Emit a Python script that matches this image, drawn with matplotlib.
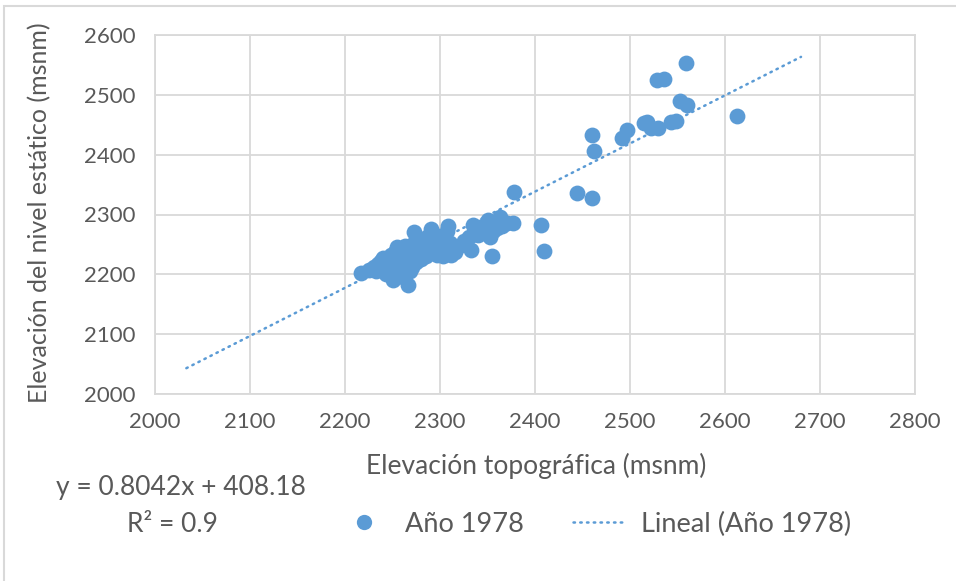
import numpy as np
import matplotlib
matplotlib.use('Agg')
from matplotlib import pyplot as plt
from matplotlib.patches import Rectangle
from matplotlib.lines import Line2D

plt.rcParams['font.family'] = ['Lato', 'DejaVu Sans']

# elevacion topografica (x) y elevacion del nivel estatico (y), año 1978
topo = [2217, 2225, 2230, 2233, 2235, 2238, 2240, 2240, 2243, 2245, 2247, 2248,
        2250, 2250, 2252, 2253, 2255, 2255, 2257, 2258, 2260, 2260, 2261, 2262,
        2263, 2265, 2266, 2266, 2268, 2268, 2270, 2271, 2272, 2273, 2274, 2275,
        2276, 2278, 2278, 2280, 2282, 2283, 2285, 2286, 2288, 2290, 2291, 2292,
        2294, 2295, 2297, 2298, 2300, 2302, 2303, 2305, 2307, 2308, 2310, 2312,
        2314, 2316, 2320, 2325, 2330, 2333, 2335, 2337, 2340, 2345, 2348, 2350,
        2353, 2355, 2356, 2358, 2360, 2363, 2365, 2370, 2377,
        2378, 2406, 2409, 2444, 2460, 2460, 2462, 2492, 2497,
        2515, 2518, 2522, 2529, 2543, 2548, 2528, 2536, 2553, 2560, 2559, 2613]
nivel = [2203, 2207, 2212, 2205, 2218, 2222, 2228, 2210, 2200, 2215, 2225, 2232,
         2190, 2208, 2220, 2238, 2245, 2200, 2215, 2230, 2225, 2240, 2195, 2210,
         2248, 2235, 2182, 2218, 2205, 2245, 2228, 2212, 2250, 2270, 2238, 2220,
         2258, 2232, 2245, 2225, 2255, 2240, 2230, 2262, 2248, 2275, 2238, 2255,
         2245, 2265, 2232, 2250, 2240, 2258, 2230, 2245, 2272, 2280, 2252, 2232,
         2246, 2238, 2248, 2255, 2262, 2240, 2283, 2270, 2265, 2280, 2275, 2290,
         2262, 2230, 2272, 2285, 2278, 2295, 2280, 2285, 2285,
         2337, 2283, 2239, 2336, 2327, 2433, 2406, 2428, 2441,
         2453, 2455, 2444, 2444, 2454, 2457, 2524, 2526, 2490, 2483, 2554, 2465]

# linea de tendencia (ecuacion mostrada por Excel)
slope = 0.8042
intercept = 408.18
trend_x = np.array([2033, 2680])

blue = '#5B9BD5'
gray_txt = '#595959'
grid_c = '#D9D9D9'

fig = plt.figure(figsize=(9.56, 5.81), dpi=100)
ax = fig.add_axes([155/956, 1-394/581, 760/956, 359/581])

ax.scatter(topo, nivel, s=130, color=blue, linewidths=0, zorder=3)
ax.plot(trend_x, slope*trend_x + intercept, color=blue, lw=1.8,
        linestyle=(0, (0.6, 2.1)), dash_capstyle='round', zorder=4)

ax.set_xlim(2000, 2800)
ax.set_ylim(2000, 2600)
ax.set_xticks(range(2000, 2801, 100))
ax.set_yticks(range(2000, 2601, 100))
ax.grid(True, color=grid_c, lw=1.3)
ax.set_axisbelow(True)
for s in ax.spines.values():
    s.set_color(grid_c)
    s.set_linewidth(1.3)
ax.tick_params(length=0, labelsize=16, labelcolor=gray_txt)
ax.tick_params(axis='y', pad=14)
ax.tick_params(axis='x', pad=13)

fig.text(536/956, 1-466/581, 'Elevación topográfica (msnm)', ha='center', va='center',
         fontsize=19, color=gray_txt)
fig.text(40/956, 1-213/581, 'Elevación del nivel estático (msnm)', ha='center', va='center',
         rotation=90, fontsize=18, color=gray_txt)

fig.text(181/956, 1-487/581, 'y = 0.8042x + 408.18', ha='center', va='center',
         fontsize=19, color=gray_txt)
fig.text(172/956, 1-524/581, 'R² = 0.9', ha='center', va='center',
         fontsize=19, color=gray_txt)

handles = [Line2D([], [], marker='o', linestyle='none', color=blue, markersize=11, markeredgewidth=0),
           Line2D([], [], color=blue, lw=1.8, linestyle=(0, (0.6, 2.1)), dash_capstyle='round')]
fig.legend(handles, ['Año 1978', 'Lineal (Año 1978)'], loc='center', ncol=2,
           bbox_to_anchor=(594/956, 1-524/581), frameon=False, fontsize=19.5,
           labelcolor=gray_txt, handlelength=2.0, handletextpad=0.52, columnspacing=1.8,
           borderpad=0, borderaxespad=0)

fig.patches.append(Rectangle((4/956, -0.1), 1.0, 1.1 - 6/581, transform=fig.transFigure,
                             fill=False, edgecolor=grid_c, lw=1.5))

fig.savefig('out.png', dpi=100)
